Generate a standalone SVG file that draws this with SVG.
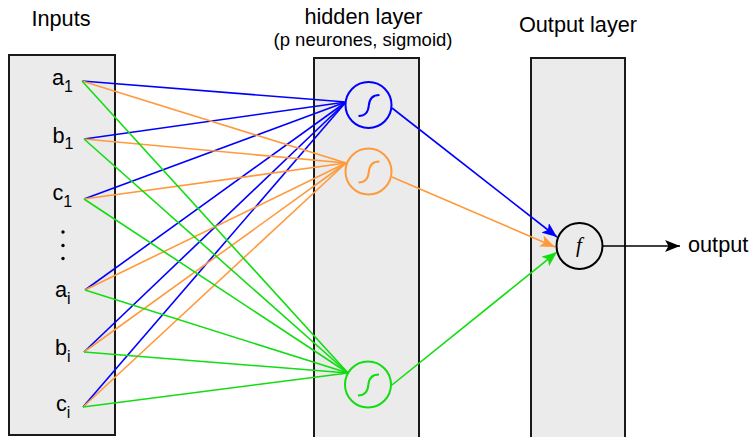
<svg xmlns="http://www.w3.org/2000/svg" width="753" height="437" viewBox="0 0 753 437">
<style>
.box{fill:#ebebeb;stroke:#1a1a1a;stroke-width:2}
.t{font-family:"Liberation Sans",Arial,sans-serif;font-size:21.7px;fill:#000}
.sub{font-size:16px}
.small{font-family:"Liberation Sans",Arial,sans-serif;font-size:18.5px;fill:#000}
.e{fill:none;stroke-width:1.6}
.b{stroke:#0000ff}.o{stroke:#ff9a3c}.g{stroke:#11dd11}
.neu{fill:#ebebeb;stroke-width:2}
.sig{fill:none;stroke-width:2}
</style>
<defs>
<marker id="ab" markerUnits="userSpaceOnUse" markerWidth="16" markerHeight="12" refX="15" refY="6" orient="auto"><path d="M0,0 L15,6 L0,12 L3.5,6 z" fill="#0000ff"/></marker>
<marker id="ao" markerUnits="userSpaceOnUse" markerWidth="16" markerHeight="12" refX="15" refY="6" orient="auto"><path d="M0,0 L15,6 L0,12 L3.5,6 z" fill="#ff9a3c"/></marker>
<marker id="ag" markerUnits="userSpaceOnUse" markerWidth="16" markerHeight="12" refX="15" refY="6" orient="auto"><path d="M0,0 L15,6 L0,12 L3.5,6 z" fill="#11dd11"/></marker>
<marker id="ak" markerUnits="userSpaceOnUse" markerWidth="16" markerHeight="12" refX="15" refY="6" orient="auto"><path d="M0,0 L15,6 L0,12 L3.5,6 z" fill="#000"/></marker>
</defs>
<g id="titles">
<text class="t" x="61" y="26" text-anchor="middle">Inputs</text>
<text class="t" x="363.5" y="24" text-anchor="middle">hidden layer</text>
<text class="small" x="363" y="46" text-anchor="middle">(p neurones, sigmoid)</text>
<text class="t" x="578" y="32" text-anchor="middle">Output layer</text>
</g>
<g id="input-layer">
<rect class="box" x="9" y="55" width="106" height="380"/>
<text class="t" x="52" y="85">a<tspan class="sub" dy="7">1</tspan></text>
<text class="t" x="52.5" y="142.5">b<tspan class="sub" dy="6">1</tspan></text>
<text class="t" x="52.5" y="200">c<tspan class="sub" dy="7">1</tspan></text>
<circle cx="63" cy="232" r="1.7" fill="#000"/>
<circle cx="63" cy="245.5" r="1.7" fill="#000"/>
<circle cx="63" cy="258.5" r="1.7" fill="#000"/>
<text class="t" x="55" y="297">a<tspan class="sub" dy="7">i</tspan></text>
<text class="t" x="55" y="355">b<tspan class="sub" dy="7">i</tspan></text>
<text class="t" x="56" y="411">c<tspan class="sub" dy="7">i</tspan></text>
</g>
<g id="hidden-layer-box">
<rect class="box" x="314" y="58" width="105" height="385"/>
</g>
<g id="output-layer-box">
<rect class="box" x="531" y="58" width="94" height="385"/>
</g>
<g id="connectors">
<line class="e b" x1="82" y1="81" x2="346" y2="102"/>
<line class="e b" x1="84" y1="139" x2="346" y2="102"/>
<line class="e b" x1="84" y1="199" x2="346" y2="102"/>
<line class="e b" x1="85" y1="290" x2="346" y2="102"/>
<line class="e b" x1="84" y1="352" x2="346" y2="102"/>
<line class="e b" x1="83" y1="407" x2="346" y2="102"/>
<line class="e o" x1="82" y1="81" x2="346" y2="163"/>
<line class="e o" x1="84" y1="139" x2="346" y2="163"/>
<line class="e o" x1="84" y1="199" x2="346" y2="163"/>
<line class="e o" x1="85" y1="290" x2="346" y2="163"/>
<line class="e o" x1="84" y1="352" x2="346" y2="163"/>
<line class="e o" x1="83" y1="407" x2="346" y2="163"/>
<line class="e g" x1="82" y1="81" x2="348" y2="373"/>
<line class="e g" x1="84" y1="139" x2="348" y2="373"/>
<line class="e g" x1="84" y1="199" x2="348" y2="373"/>
<line class="e g" x1="85" y1="290" x2="348" y2="373"/>
<line class="e g" x1="84" y1="352" x2="348" y2="373"/>
<line class="e g" x1="83" y1="407" x2="348" y2="373"/>
<line class="e b" x1="392" y1="108" x2="557" y2="237" marker-end="url(#ab)"/>
<line class="e o" x1="392" y1="177" x2="555" y2="247" marker-end="url(#ao)"/>
<line class="e g" x1="392" y1="385" x2="557" y2="252" marker-end="url(#ag)"/>
<line class="e" stroke="#000" x1="603" y1="246" x2="680" y2="246" marker-end="url(#ak)"/>
</g>
<g id="hidden-1">
<circle class="neu" stroke="#0000ff" cx="368.5" cy="105" r="23"/>
<path class="sig" stroke="#0000ff" d="M358.5,116 Q368,116 368.8,105.5 T379.5,95"/>
</g>
<g id="hidden-2">
<circle class="neu" stroke="#ff9a3c" cx="368.5" cy="171.5" r="23"/>
<path class="sig" stroke="#ff9a3c" d="M358.5,182.5 Q368,182.5 368.8,172 T379.5,161.5"/>
</g>
<g id="hidden-p">
<circle class="neu" stroke="#11dd11" cx="368" cy="384.5" r="23"/>
<path class="sig" stroke="#11dd11" d="M358,395.5 Q367.5,395.5 368.3,385 T379,374.5"/>
</g>
<g id="output-neuron">
<circle class="neu" stroke="#000" stroke-width="1.8" cx="579.5" cy="246" r="23"/>
<text x="579" y="252" text-anchor="middle" font-family="'Liberation Serif',serif" font-style="italic" font-size="21">f</text>
</g>
<g id="output-label">
<text class="t" x="688" y="252">output</text>
</g>
</svg>
